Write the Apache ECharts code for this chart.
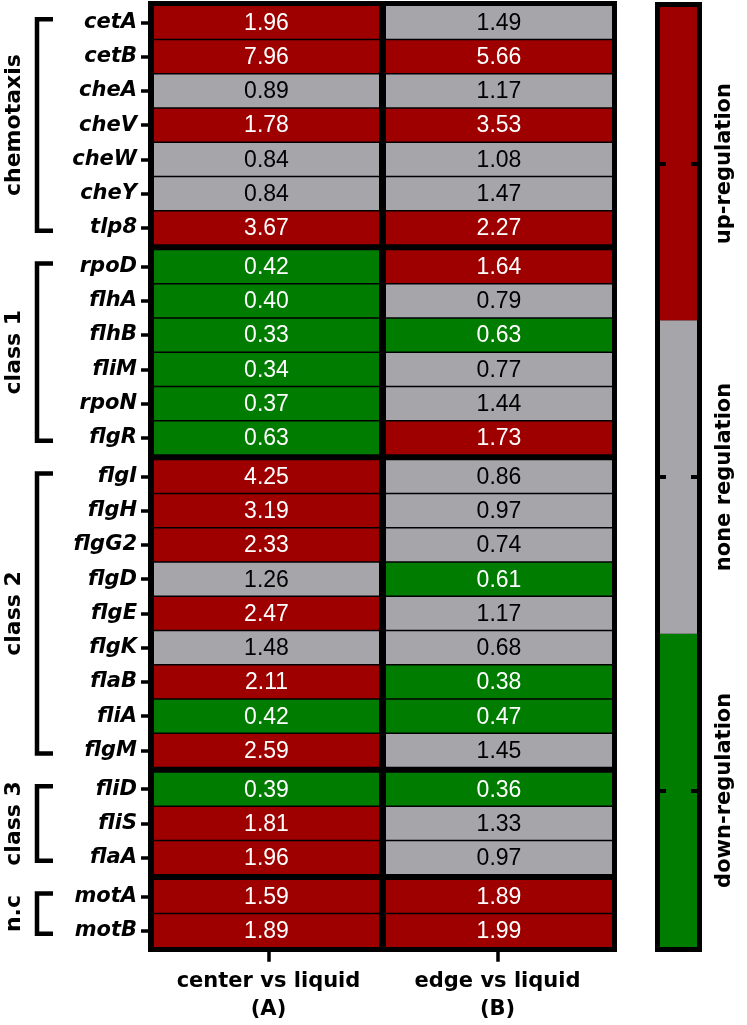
<!DOCTYPE html>
<html>
<head>
<meta charset="utf-8">
<script src="https://cdn.jsdelivr.net/npm/echarts@6/dist/echarts.min.js"></script>
<style>html,body{margin:0;padding:0;background:#fff;}#c{width:747px;height:1025px;}</style>
</head>
<body>
<div id="c"></div>
<script>
// ---- data ----
const groupNames = ['chemotaxis', 'class 1', 'class 2', 'class 3', 'n.c'];
const groupGenes = [
  ['cetA', 'cetB', 'cheA', 'cheV', 'cheW', 'cheY', 'tlp8'],
  ['rpoD', 'flhA', 'flhB', 'fliM', 'rpoN', 'flgR'],
  ['flgI', 'flgH', 'flgG2', 'flgD', 'flgE', 'flgK', 'flaB', 'fliA', 'flgM'],
  ['fliD', 'fliS', 'flaA'],
  ['motA', 'motB']
];
const columnLabels = ['center vs liquid\n(A)', 'edge vs liquid\n(B)'];
const centerVsLiquid = [1.96, 7.96, 0.89, 1.78, 0.84, 0.84, 3.67,
  0.42, 0.40, 0.33, 0.34, 0.37, 0.63,
  4.25, 3.19, 2.33, 1.26, 2.47, 1.48, 2.11, 0.42, 2.59,
  0.39, 1.81, 1.96,
  1.59, 1.89];
const edgeVsLiquid = [1.49, 5.66, 1.17, 3.53, 1.08, 1.47, 2.27,
  1.64, 0.79, 0.63, 0.77, 1.44, 1.73,
  0.86, 0.97, 0.74, 0.61, 1.17, 0.68, 0.38, 0.47, 1.45,
  0.36, 1.33, 0.97,
  1.89, 1.99];
const legendLabels = ['down-regulation', 'none regulation', 'up-regulation'];
const thresholds = [0.66, 1.5];

// ---- style ----
const RED = '#9E0000', GRAY = '#A5A5AA', GREEN = '#007D00';
const legendColors = [GREEN, GRAY, RED];
const BOLD = '"DejaVu Sans", sans-serif';
const VALFONT = '"Liberation Sans", Arial, sans-serif';

function colorOf(v) { return v < thresholds[0] ? GREEN : (v < thresholds[1] ? GRAY : RED); }

const chart = echarts.init(document.getElementById('c'), null, { renderer: 'canvas' });

// layout
const TOP = 5.25, BOTTOM = 947.75, GAP = 4.5, LEFT = 154, WIDTH = 458;
const nRows = groupGenes.reduce((a, g) => a + g.length, 0);
const pitch = (BOTTOM - TOP - GAP * (groupGenes.length - 1)) / nRows;

const grids = [], xAxes = [], yAxes = [], series = [];
let yCur = TOP, offset = 0;
groupGenes.forEach((genes, gi) => {
  const h = genes.length * pitch;
  grids.push({ left: LEFT, top: yCur, width: WIDTH, height: h, containLabel: false });
  yCur += h + GAP;
  const last = gi === groupGenes.length - 1;
  xAxes.push({
    type: 'category', gridIndex: gi, data: columnLabels, position: 'bottom',
    axisLine: { show: false },
    axisTick: { show: last, alignWithLabel: true, interval: 0, length: 14, lineStyle: { color: '#000', width: 3.5 } },
    axisLabel: { show: last, interval: 0, hideOverlap: false, color: '#000', fontFamily: BOLD, fontWeight: 'bold', fontSize: 21, lineHeight: 28, margin: 20 },
    splitLine: { show: false }
  });
  yAxes.push({
    type: 'category', gridIndex: gi, data: genes, inverse: true,
    axisLine: { show: false },
    axisTick: { show: true, alignWithLabel: true, interval: 0, length: 13, lineStyle: { color: '#000', width: 3.5 } },
    axisLabel: { interval: 0, color: '#000', fontFamily: BOLD, fontWeight: 'bold', fontStyle: 'italic', fontSize: 21, margin: 17 },
    splitLine: { show: false }
  });
  const data = [];
  genes.forEach((g, ri) => {
    data.push([0, ri, centerVsLiquid[offset + ri]]);
    data.push([1, ri, edgeVsLiquid[offset + ri]]);
  });
  offset += genes.length;
  series.push({
    type: 'custom', xAxisIndex: gi, yAxisIndex: gi, data: data,
    renderItem: function (params, api) {
      const xi = api.value(0), yi = api.value(1), v = api.value(2);
      const c = api.coord([xi, yi]);
      const s = api.size([1, 1]);
      let x0 = c[0] - s[0] / 2, x1 = c[0] + s[0] / 2;
      if (xi === 0) x1 -= 4; else x0 += 3;
      const y0 = c[1] - s[1] / 2 + 0.75, y1 = c[1] + s[1] / 2 - 0.75;
      const col = colorOf(v);
      return {
        type: 'group', children: [
          { type: 'rect', shape: { x: x0, y: y0, width: x1 - x0, height: y1 - y0 }, style: { fill: col } },
          { type: 'text', style: { text: v.toFixed(2), x: (x0 + x1) / 2, y: (y0 + y1) / 2 + 1, align: 'center', verticalAlign: 'middle',
            fill: col === GRAY ? '#000' : '#fff', font: '23px ' + VALFONT } }
        ]
      };
    }
  });
});

// colour bar grid
const CB = groupGenes.length;
grids.push({ left: 660, top: 7, width: 37, height: 940 });
xAxes.push({ type: 'category', gridIndex: CB, data: [''], show: false });
yAxes.push({
  type: 'category', gridIndex: CB, data: legendLabels, position: 'right',
  axisLine: { show: false },
  axisTick: { show: true, inside: true, alignWithLabel: true, interval: 0, length: 6, lineStyle: { color: '#000', width: 4 } },
  axisLabel: { interval: 0, rotate: 90, color: '#000', fontFamily: BOLD, fontWeight: 'bold', fontSize: 21, margin: 17 },
  z: 5
});
yAxes.push({
  type: 'category', gridIndex: CB, data: legendLabels, position: 'left',
  axisLine: { show: false },
  axisTick: { show: true, inside: true, alignWithLabel: true, interval: 0, length: 6, lineStyle: { color: '#000', width: 4 } },
  axisLabel: { show: false },
  z: 5
});
series.push({
  type: 'custom', xAxisIndex: CB, yAxisIndex: CB, z: 1,
  data: legendLabels.map((l, i) => [0, i]),
  renderItem: function (params, api) {
    const c = api.coord([api.value(0), api.value(1)]);
    const s = api.size([1, 1]);
    return { type: 'rect', shape: { x: c[0] - s[0] / 2, y: c[1] - s[1] / 2, width: s[0], height: s[1] },
      style: { fill: legendColors[api.value(1)] } };
  }
});

chart.setOption({
  animation: false,
  backgroundColor: '#fff',
  grid: grids, xAxis: xAxes, yAxis: yAxes, series: series
});

// frames, group brackets and labels, placed through the axes' own scales
const extra = [
  { type: 'rect', z: -1, shape: { x: 148, y: 1, width: 469, height: 951 }, style: { fill: '#000' } },
  { type: 'rect', z: -1, shape: { x: 655, y: 2, width: 47, height: 950 }, style: { fill: '#000' } }
];
groupGenes.forEach((genes, gi) => {
  const yTop = chart.convertToPixel({ yAxisIndex: gi }, genes[0]) - 3;
  const yBot = chart.convertToPixel({ yAxisIndex: gi }, genes[genes.length - 1]) + 3;
  extra.push({ type: 'polyline', shape: { points: [[53, yTop], [37, yTop], [37, yBot], [53, yBot]] },
    style: { stroke: '#000', lineWidth: 4.5, fill: null, lineJoin: 'miter' } });
  extra.push({ type: 'text', x: 14, y: (yTop + yBot) / 2, rotation: Math.PI / 2,
    style: { text: groupNames[gi], align: 'center', verticalAlign: 'middle', fill: '#000',
      font: 'bold 22px ' + BOLD } });
});
chart.setOption({ graphic: extra });
</script>
</body>
</html>
